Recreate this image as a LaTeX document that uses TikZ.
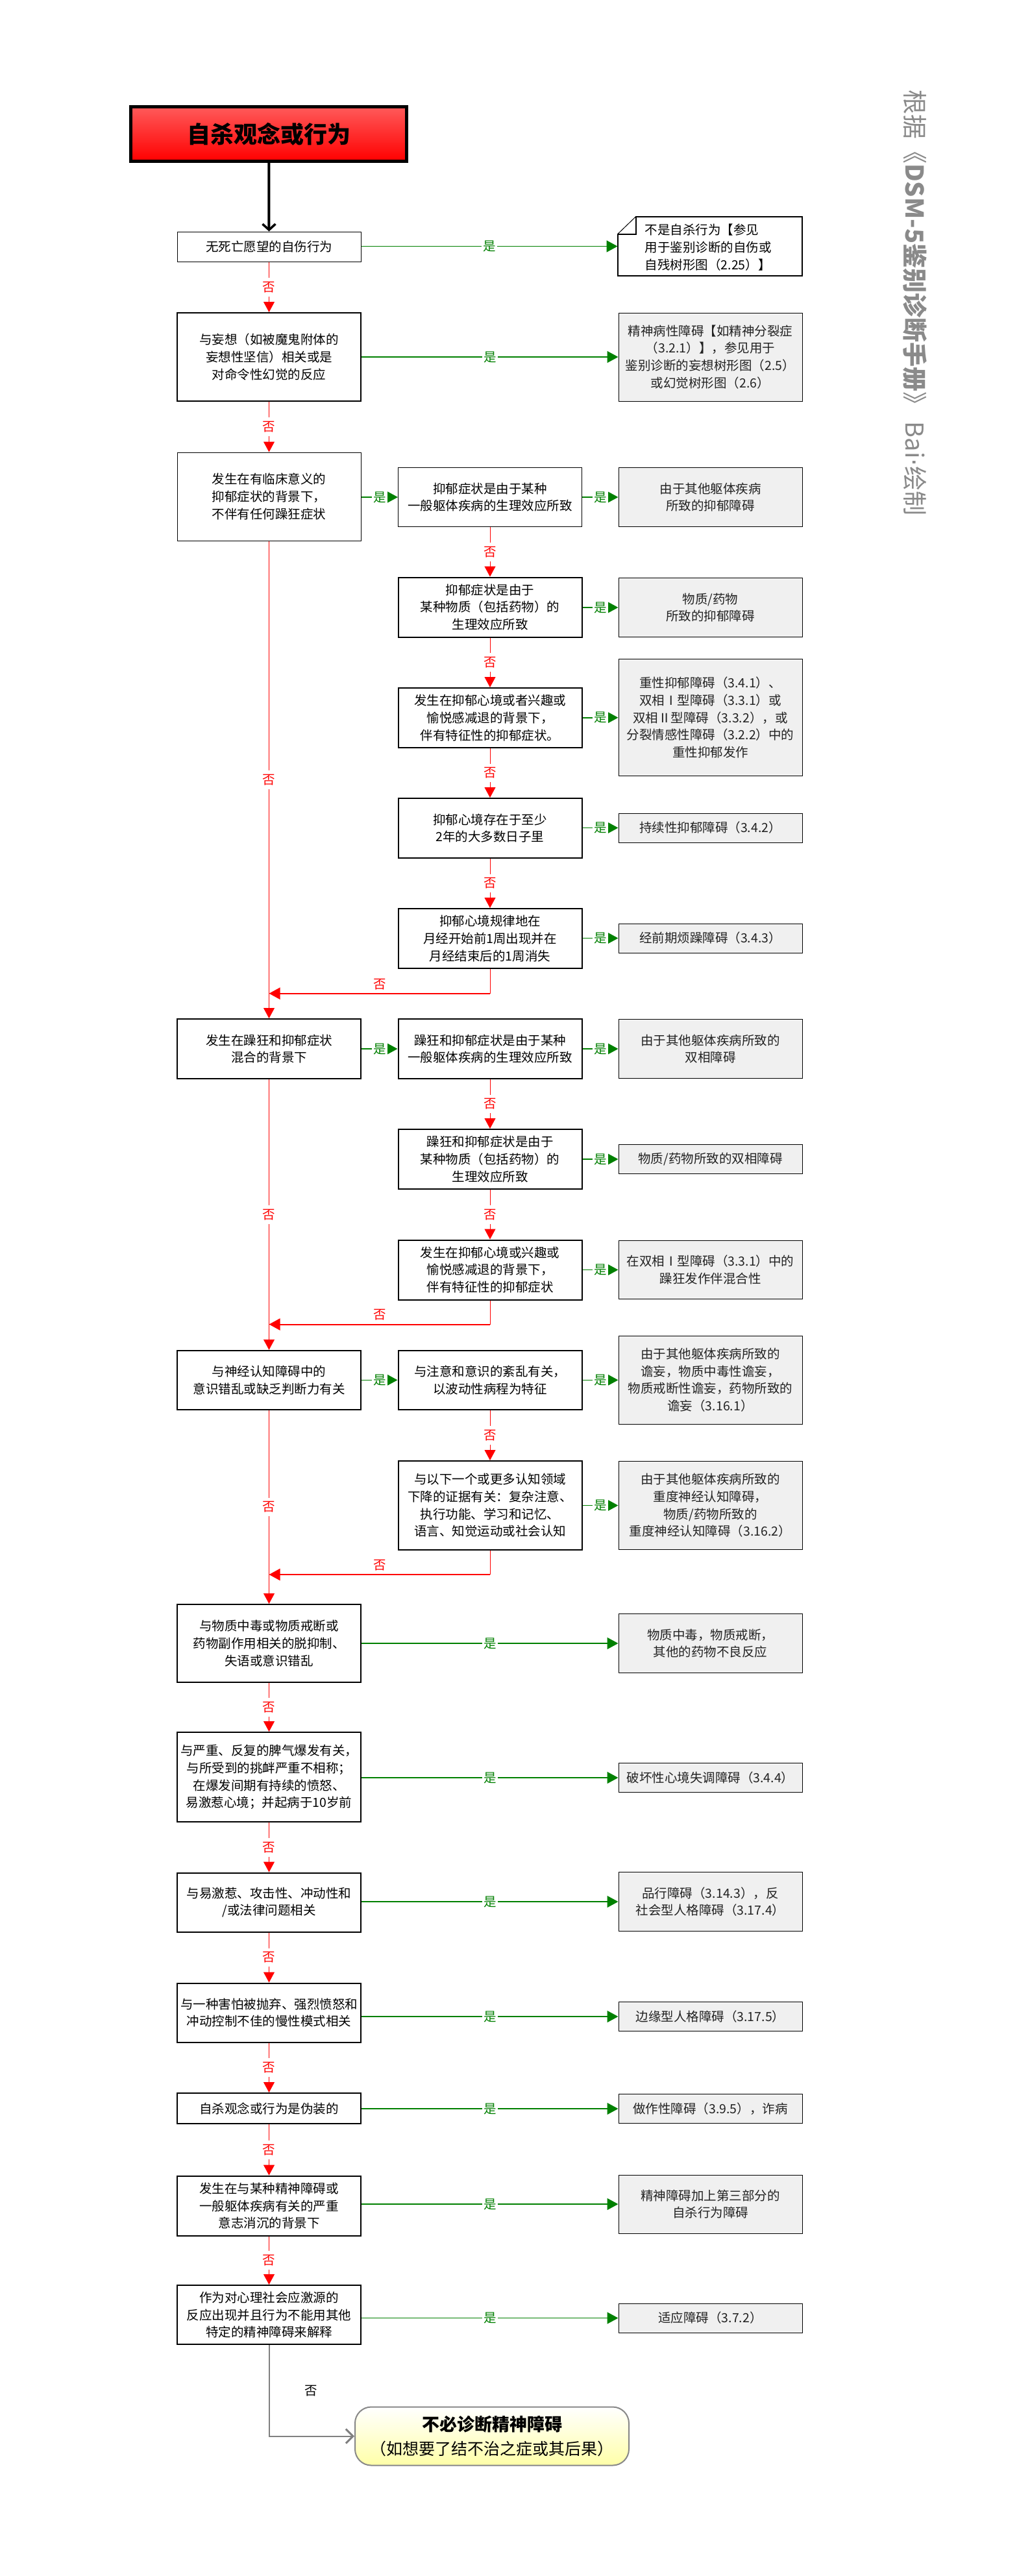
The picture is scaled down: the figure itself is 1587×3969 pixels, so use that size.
\documentclass[tikz,border=0pt]{standalone}
\usepackage{fontspec}
\setmainfont{Noto Sans CJK SC}
\newfontfamily\dotfont{DejaVu Sans}
\usetikzlibrary{arrows.meta,calc}
\definecolor{yesgreen}{HTML}{008000}
\definecolor{resfill}{HTML}{F0F0F0}
\definecolor{restext}{HTML}{222222}
\definecolor{wmgray}{HTML}{8A8A8A}
\definecolor{titletop}{HTML}{FF5A5A}
\definecolor{finalbot}{HTML}{FFFFA8}
\definecolor{finalborder}{HTML}{888888}
\definecolor{linegray}{HTML}{808080}
\newcommand{\boxfont}{\fontsize{19.5}{26.7}\selectfont}
\begin{document}
\begin{tikzpicture}[x=1pt,y=-1pt,
  every node/.style={font=\boxfont},
  qbox/.style={draw=black,line width=1pt,fill=white,minimum width=283pt,inner sep=0pt,align=center},
  tbox/.style={qbox,line width=2pt},
  rbox/.style={draw=black,line width=1pt,fill=resfill,minimum width=283pt,inner sep=0pt,align=center,text=restext},
  nol/.style={red,line width=1pt,-{Triangle[length=16pt,width=17pt]}},
  nolab/.style={text=red,fill=white,inner xsep=2pt,inner ysep=6pt},
  retl/.style={red,line width=2pt,-{Triangle[length=17pt,width=18pt]}},
  retlab/.style={text=red,above=5pt,inner sep=0pt},
  yesl/.style={yesgreen,line width=1.6pt,-{Triangle[length=17pt,width=18pt]}},
  yeslab/.style={text=yesgreen,fill=white,inner xsep=2pt,inner ysep=1pt}]
\fill[white] (0,0) rectangle (1587,3969);
\path[use as bounding box] (0,0) rectangle (1587,3969);
\def\L{414.5}\def\M{755}\def\R{1094.5}
% title
\node[draw=black,line width=5pt,minimum width=425pt,minimum height=84pt,inner sep=0pt,
  top color=titletop,bottom color=red,font=\fontsize{36}{40}\selectfont\bfseries] (T) at (414.3,206.4) {自杀观念或行为};
% watermark
\node[rotate=-90,anchor=west,inner sep=0pt,text=wmgray,font=\fontsize{38}{40}\selectfont] (W) at (1410,138) {根据《\textbf{DSM-5鉴别诊断手册}》 Bai{\dotfont ·}绘制};
% row 1
\node[qbox,minimum height=46pt] (B1) at (\L,380) {无死亡愿望的自伤行为};
\node[minimum width=284pt,minimum height=91pt,inner sep=0pt] (N1) at (1093.75,379.5) {};
\draw[line width=2pt,line join=miter] ($(N1.north west)+(28,0)$) -- (N1.north east) -- (N1.south east) -- (N1.south west) -- ($(N1.north west)+(0,27)$) -- ($(N1.north west)+(28,27)$) -- cycle;
\draw[line width=1pt] ($(N1.north west)+(0,27)$) -- ($(N1.north west)+(28,0)$);
\node[anchor=west,align=left,inner sep=0pt] (N1t) at ($(N1.west)+(42,1.5)$) {不是自杀行为【参见\\用于鉴别诊断的自伤或\\自残树形图（2.25）】};
% row 2
\node[tbox,minimum height=136pt] (B2) at (\L,550) {与妄想（如被魔鬼附体的\\妄想性坚信）相关或是\\对命令性幻觉的反应};
\node[rbox,minimum height=136pt] (R2) at (\R,550) {精神病性障碍【如精神分裂症\\（3.2.1）】，参见用于\\鉴别诊断的妄想树形图（2.5）\\或幻觉树形图（2.6）};
% depressive block
\node[qbox,minimum height=136pt] (B3) at (\L,765) {发生在有临床意义的\\抑郁症状的背景下，\\不伴有任何躁狂症状};
\node[qbox,minimum height=91pt] (M1) at (\M,766) {抑郁症状是由于某种\\一般躯体疾病的生理效应所致};
\node[rbox,minimum height=91pt] (R3) at (\R,766) {由于其他躯体疾病\\所致的抑郁障碍};
\node[tbox,minimum height=92pt] (M2) at (\M,935.6) {抑郁症状是由于\\某种物质（包括药物）的\\生理效应所致};
\node[rbox,minimum height=91pt] (RM2) at (\R,936) {物质/药物\\所致的抑郁障碍};
\node[tbox,minimum height=92pt] (M3) at (\M,1106) {发生在抑郁心境或者兴趣或\\愉悦感减退的背景下，\\伴有特征性的抑郁症状。};
\node[rbox,minimum height=180pt] (RM3) at (\R,1105.7) {重性抑郁障碍（3.4.1）、\\双相Ⅰ型障碍（3.3.1）或\\双相Ⅱ型障碍（3.3.2），或\\分裂情感性障碍（3.2.2）中的\\重性抑郁发作};
\node[tbox,minimum height=92pt] (M4) at (\M,1276) {抑郁心境存在于至少\\2年的大多数日子里};
\node[rbox,minimum height=45pt] (RM4) at (\R,1275.5) {持续性抑郁障碍（3.4.2）};
\node[tbox,minimum height=92pt] (M5) at (\M,1446) {抑郁心境规律地在\\月经开始前1周出现并在\\月经结束后的1周消失};
\node[rbox,minimum height=45pt] (RM5) at (\R,1445.5) {经前期烦躁障碍（3.4.3）};
\coordinate (J1) at (\L,1530.7);
% bipolar block
\node[tbox,minimum height=92pt] (B4) at (\L,1616) {发生在躁狂和抑郁症状\\混合的背景下};
\node[tbox,minimum height=92pt] (M6) at (\M,1616) {躁狂和抑郁症状是由于某种\\一般躯体疾病的生理效应所致};
\node[rbox,minimum height=91pt] (R6) at (\R,1616) {由于其他躯体疾病所致的\\双相障碍};
\node[tbox,minimum height=92pt] (M7) at (\M,1786) {躁狂和抑郁症状是由于\\某种物质（包括药物）的\\生理效应所致};
\node[rbox,minimum height=45pt] (R7) at (\R,1786) {物质/药物所致的双相障碍};
\node[tbox,minimum height=92pt] (M8) at (\M,1956.5) {发生在抑郁心境或兴趣或\\愉悦感减退的背景下，\\伴有特征性的抑郁症状};
\node[rbox,minimum height=90pt] (R8) at (\R,1956.5) {在双相Ⅰ型障碍（3.3.1）中的\\躁狂发作伴混合性};
\coordinate (J2) at (\L,2040.5);
% neurocognitive block
\node[tbox,minimum height=91pt] (B5) at (\L,2126.3) {与神经认知障碍中的\\意识错乱或缺乏判断力有关};
\node[tbox,minimum height=91pt] (M9) at (\M,2126.3) {与注意和意识的紊乱有关，\\以波动性病程为特征};
\node[rbox,minimum height=136pt] (R9) at (\R,2126.3) {由于其他躯体疾病所致的\\谵妄，物质中毒性谵妄，\\物质戒断性谵妄，药物所致的\\谵妄（3.16.1）};
\node[tbox,minimum height=137pt] (M10) at (\M,2319.5) {与以下一个或更多认知领域\\下降的证据有关：复杂注意、\\执行功能、学习和记忆、\\语言、知觉运动或社会认知};
\node[rbox,minimum height=136pt] (R10) at (\R,2319.5) {由于其他躯体疾病所致的\\重度神经认知障碍，\\物质/药物所致的\\重度神经认知障碍（3.16.2）};
\coordinate (J3) at (\L,2426);
% lower chain
\node[tbox,minimum height=120pt] (B6) at (\L,2532) {与物质中毒或物质戒断或\\药物副作用相关的脱抑制、\\失语或意识错乱};
\node[rbox,minimum height=91pt] (R11) at (\R,2532) {物质中毒，物质戒断，\\其他的药物不良反应};
\node[tbox,minimum height=138pt] (B7) at (\L,2738) {与严重、反复的脾气爆发有关，\\与所受到的挑衅严重不相称；\\在爆发间期有持续的愤怒、\\易激惹心境；并起病于10岁前};
\node[rbox,minimum height=45pt] (R12) at (\R,2739) {破坏性心境失调障碍（3.4.4）};
\node[tbox,minimum height=91pt] (B8) at (\L,2931) {与易激惹、攻击性、冲动性和\\/或法律问题相关};
\node[rbox,minimum height=91pt] (R13) at (\R,2930) {品行障碍（3.14.3），反\\社会型人格障碍（3.17.4）};
\node[tbox,minimum height=91pt] (B9) at (\L,3101) {与一种害怕被抛弃、强烈愤怒和\\冲动控制不佳的慢性模式相关};
\node[rbox,minimum height=45pt] (R14) at (\R,3107) {边缘型人格障碍（3.17.5）};
\node[tbox,minimum height=47pt] (B10) at (\L,3248.5) {自杀观念或行为是伪装的};
\node[rbox,minimum height=45pt] (R15) at (\R,3249) {做作性障碍（3.9.5），诈病};
\node[tbox,minimum height=92pt] (B11) at (\L,3398.6) {发生在与某种精神障碍或\\一般躯体疾病有关的严重\\意志消沉的背景下};
\node[rbox,minimum height=90pt] (R16) at (\R,3396) {精神障碍加上第三部分的\\自杀行为障碍};
\node[tbox,minimum height=91pt] (B12) at (\L,3566.5) {作为对心理社会应激源的\\反应出现并且行为不能用其他\\特定的精神障碍来解释};
\node[rbox,minimum height=45pt] (R17) at (\R,3571.5) {适应障碍（3.7.2）};
\node[draw=finalborder,line width=2pt,rounded corners=25pt,top color=white,bottom color=finalbot,
  minimum width=422pt,minimum height=90pt,inner sep=0pt,align=center,font=\fontsize{25}{37}\selectfont] (F) at (758,3753.5)
  {{\fontsize{27}{37}\selectfont\bfseries 不必诊断精神障碍}\\（如想要了结不治之症或其后果）};
% connectors: start
\draw[line width=4pt,-{Straight Barb[length=9pt,width=20pt,line width=3.5pt]}] (T.south) -- (B1.north);
% yes connectors
\draw[yesl] (B1.east |- N1.west) -- node[yeslab]{是} (N1.west);
\draw[yesl] (B2.east |- R2.west) -- node[yeslab]{是} (R2.west);
\draw[yesl] (B3.east |- M1.west) -- node[yeslab]{是} (M1.west);
\draw[yesl] (M1.east |- R3.west) -- node[yeslab]{是} (R3.west);
\draw[yesl] (M2.east |- RM2.west) -- node[yeslab]{是} (RM2.west);
\draw[yesl] (M3.east |- RM3.west) -- node[yeslab]{是} (RM3.west);
\draw[yesl] (M4.east |- RM4.west) -- node[yeslab]{是} (RM4.west);
\draw[yesl] (M5.east |- RM5.west) -- node[yeslab]{是} (RM5.west);
\draw[yesl] (B4.east |- M6.west) -- node[yeslab]{是} (M6.west);
\draw[yesl] (M6.east |- R6.west) -- node[yeslab]{是} (R6.west);
\draw[yesl] (M7.east |- R7.west) -- node[yeslab]{是} (R7.west);
\draw[yesl] (M8.east |- R8.west) -- node[yeslab]{是} (R8.west);
\draw[yesl] (B5.east |- M9.west) -- node[yeslab]{是} (M9.west);
\draw[yesl] (M9.east |- R9.west) -- node[yeslab]{是} (R9.west);
\draw[yesl] (M10.east |- R10.west) -- node[yeslab]{是} (R10.west);
\draw[yesl] (B6.east |- R11.west) -- node[yeslab]{是} (R11.west);
\draw[yesl] (B7.east |- R12.west) -- node[yeslab]{是} (R12.west);
\draw[yesl] (B8.east |- R13.west) -- node[yeslab]{是} (R13.west);
\draw[yesl] (B9.east |- R14.west) -- node[yeslab]{是} (R14.west);
\draw[yesl] (B10.east |- R15.west) -- node[yeslab]{是} (R15.west);
\draw[yesl] (B11.east |- R16.west) -- node[yeslab]{是} (R16.west);
\draw[yesl] (B12.east |- R17.west) -- node[yeslab]{是} (R17.west);
% no connectors
\draw[nol] (B1.south) -- node[nolab]{否} (B2.north);
\draw[nol] (B2.south) -- node[nolab]{否} (B3.north);
\draw[nol] (M1.south) -- node[nolab]{否} (M2.north);
\draw[nol] (M2.south) -- node[nolab]{否} (M3.north);
\draw[nol] (M3.south) -- node[nolab]{否} (M4.north);
\draw[nol] (M4.south) -- node[nolab]{否} (M5.north);
\draw[nol] (B3.south) -- node[nolab]{否} (B4.north);
\draw[nol] (M6.south) -- node[nolab]{否} (M7.north);
\draw[nol] (M7.south) -- node[nolab]{否} (M8.north);
\draw[nol] (B4.south) -- node[nolab]{否} (B5.north);
\draw[nol] (M9.south) -- node[nolab]{否} (M10.north);
\draw[nol] (B5.south) -- node[nolab]{否} (B6.north);
\draw[nol] (B6.south) -- node[nolab]{否} (B7.north);
\draw[nol] (B7.south) -- node[nolab]{否} (B8.north);
\draw[nol] (B8.south) -- node[nolab]{否} (B9.north);
\draw[nol] (B9.south) -- node[nolab]{否} (B10.north);
\draw[nol] (B10.south) -- node[nolab]{否} (B11.north);
\draw[nol] (B11.south) -- node[nolab]{否} (B12.north);
% return connectors
\draw[red,line width=1pt] (M5.south) -- (M5.south |- J1);
\draw[retl] (M5.south |- J1) -- node[retlab]{否} (J1);
\draw[red,line width=1pt] (M8.south) -- (M8.south |- J2);
\draw[retl] (M8.south |- J2) -- node[retlab]{否} (J2);
\draw[red,line width=1pt] (M10.south) -- (M10.south |- J3);
\draw[retl] (M10.south |- J3) -- node[retlab]{否} (J3);
% final
\draw[linegray,line width=2pt,-{Straight Barb[length=11pt,width=22pt,line width=3pt]}] (B12.south) |- node[pos=0.25,xshift=64.5pt,text=black]{否} (F.west);
\end{tikzpicture}
\end{document}
